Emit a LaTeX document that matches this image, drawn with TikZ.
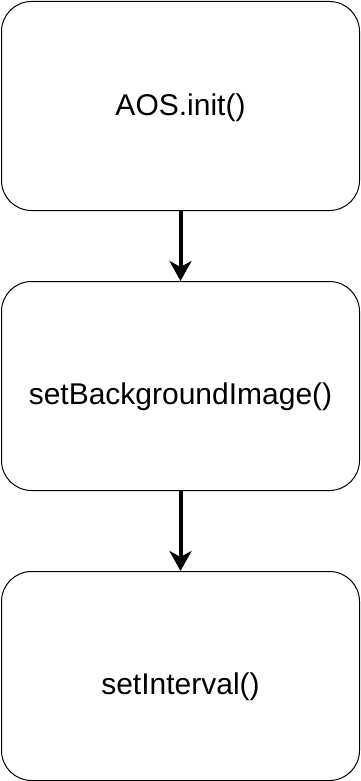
\documentclass[tikz,border=0pt]{standalone}
\usepackage{fontspec}
\setmainfont{Liberation Sans}
\usetikzlibrary{arrows.meta}
% lower a label inside its box without changing the box size
\newcommand{\dropby}[2]{\raisebox{-#1}[\height][\depth]{#2}}
\begin{document}
\begin{tikzpicture}[x=1pt,y=-1pt,
  stepbox/.style={draw=black, line width=1pt, rounded corners=30pt, fill=white,
    minimum width=358pt, minimum height=209pt, inner sep=0pt, anchor=north west,
    font=\fontsize{30pt}{34pt}\selectfont},
  flow/.style={line width=4pt, -{Stealth[length=20pt,width=22pt,inset=6pt]}}]
  \useasboundingbox (0,0) rectangle (361,781);
  \node[stepbox] (init) at (1,1) {\dropby{2pt}{AOS.init()}};
  \node[stepbox] (bg) at (1,281) {\dropby{11pt}{setBackgroundImage()}};
  \node[stepbox] (interval) at (1,571) {\dropby{11pt}{setInterval()}};
  \draw[flow] (init.south) -- (bg.north);
  \draw[flow] (bg.south) -- (interval.north);
\end{tikzpicture}
\end{document}
